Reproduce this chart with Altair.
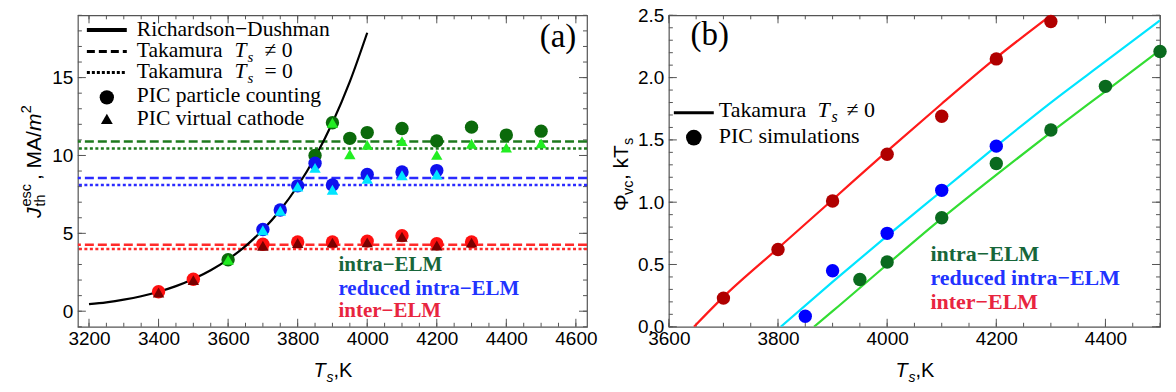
import altair as alt
import pandas as pd

# ---------------- Panel (a) data ----------------
T_RD = [3200, 3250, 3300, 3350, 3400, 3450, 3500, 3550, 3600, 3650, 3700, 3750, 3800, 3850, 3900, 3950, 4000]
J_RD = [0.45, 0.57, 0.74, 0.96, 1.25, 1.61, 2.07, 2.63, 3.33, 4.18, 5.23, 6.50, 8.04, 9.89, 12.10, 14.74, 17.88]

T_INTRA_PC = [3600, 3850, 3900, 3950, 4000, 4100, 4200, 4300, 4400, 4500]
J_INTRA_PC = [3.3, 10.0, 12.1, 11.1, 11.47, 11.73, 10.93, 11.82, 11.31, 11.56]
T_INTRA_VC = [3600, 3900, 3950, 4000, 4100, 4200, 4300, 4400, 4500]
J_INTRA_VC = [3.3, 12.1, 10.08, 10.68, 10.92, 10.04, 10.75, 10.5, 10.78]

T_REDU = [3700, 3750, 3800, 3850, 3900, 4000, 4100, 4200]
J_REDU_PC = [5.25, 6.5, 8.05, 9.5, 8.1, 8.78, 8.94, 9.03]
J_REDU_VC = [5.2, 6.45, 8.0, 9.2, 7.8, 8.5, 8.73, 8.78]

T_INTER = [3400, 3500, 3700, 3800, 3900, 4000, 4100, 4200, 4300]
J_INTER_PC = [1.25, 2.05, 4.3, 4.45, 4.45, 4.5, 4.85, 4.33, 4.45]
J_INTER_VC = [1.2, 2.0, 4.2, 4.38, 4.4, 4.42, 4.78, 4.22, 4.4]

# Takamura levels: intra, reduced intra, inter
TAK_NZ = [10.9, 8.55, 4.27]   # T_s != 0 (dashed)
TAK_Z = [10.45, 8.1, 4.0]     # T_s = 0 (dotted)

XA_MAJOR = [3200, 3400, 3600, 3800, 4000, 4200, 4400, 4600]
XA_MINOR = list(range(3200, 4601, 50))
YA_MAJOR = [0, 5, 10, 15]
YA_MINOR = list(range(-1, 20))
XA_DOMAIN = [3168, 4632]
YA_DOMAIN = [-1, 19]

# ---------------- Panel (b) data ----------------
T_B_INTER = [3700, 3800, 3900, 4000, 4100, 4200, 4300]
P_B_INTER = [0.23, 0.62, 1.01, 1.385, 1.69, 2.15, 2.45]
T_B_REDU = [3850, 3900, 4000, 4100, 4200]
P_B_REDU = [0.085, 0.45, 0.75, 1.095, 1.45]
T_B_INTRA = [3950, 4000, 4100, 4200, 4300, 4400, 4500]
P_B_INTRA = [0.38, 0.52, 0.875, 1.31, 1.58, 1.93, 2.21]

TL_INTER = [3646, 3700, 3800, 3900, 4000, 4100, 4200, 4300]
PL_INTER = [0.0, 0.24, 0.63, 1.02, 1.41, 1.79, 2.16, 2.50]
TL_REDU = [3805, 3900, 4000, 4100, 4200, 4300, 4400, 4500]
PL_REDU = [0.0, 0.36, 0.73, 1.09, 1.45, 1.80, 2.13, 2.46]
TL_INTRA = [3866, 3900, 4000, 4100, 4200, 4300, 4400, 4500]
PL_INTRA = [0.0, 0.125, 0.50, 0.87, 1.22, 1.56, 1.89, 2.22]

XB_MAJOR = [3600, 3800, 4000, 4200, 4400]
XB_MINOR = list(range(3600, 4501, 50))
YB_MAJOR = [0.0, 0.5, 1.0, 1.5, 2.0, 2.5]
YB_MINOR = [i / 10 for i in range(0, 26)]
XB_DOMAIN = [3600, 4500]
YB_DOMAIN = [0, 2.5]

# ---------------- styles ----------------
SERIF = "Liberation Serif"
SANS = "Liberation Sans"
FRAME = "#555555"
WA, HA = 510, 312
WB, HB = 492, 312

ONE = pd.DataFrame({"k": [0]})


def df(T, V):
    return pd.DataFrame({"T": T, "V": V})


def axis(vals, fmt, pad):
    return alt.Axis(values=vals, format=fmt, title=None, ticks=False, tickSize=0,
                    domain=False, grid=False, labelFont=SANS, labelFontSize=19,
                    labelColor="black", labelPadding=pad, labelFlush=False)


def txt(s, x, y, size, font=SERIF, style="normal", weight="normal",
        color="black", angle=0, align="left", baseline="alphabetic"):
    return alt.Chart(ONE).mark_text(
        text=s, font=font, fontSize=size, fontStyle=style, fontWeight=weight,
        color=color, angle=angle, align=align, baseline=baseline
    ).encode(x=alt.value(x), y=alt.value(y))


def panel(W, H, xdom, ydom, xmaj, xmin, ymaj, ymin, yfmt):
    xs = alt.Scale(domain=xdom, nice=False, zero=False)
    ys = alt.Scale(domain=ydom, nice=False, zero=False)
    X = alt.X("T:Q", scale=xs, axis=axis(xmaj, "d", 3))
    Y = alt.Y("V:Q", scale=ys, axis=axis(ymaj, yfmt, 5))
    layers = []
    for vals, L in ((xmin, 4), (xmaj, 8)):
        d = pd.DataFrame({"T": vals})
        layers.append(alt.Chart(d).mark_rule(color=FRAME, strokeWidth=1).encode(
            x=X, y=alt.value(H), y2=alt.value(H - L)))
        layers.append(alt.Chart(d).mark_rule(color=FRAME, strokeWidth=1).encode(
            x=X, y=alt.value(0), y2=alt.value(L)))
    for vals, L in ((ymin, 4), (ymaj, 8)):
        d = pd.DataFrame({"V": vals})
        layers.append(alt.Chart(d).mark_rule(color=FRAME, strokeWidth=1).encode(
            y=Y, x=alt.value(0), x2=alt.value(L)))
        layers.append(alt.Chart(d).mark_rule(color=FRAME, strokeWidth=1).encode(
            y=Y, x=alt.value(W), x2=alt.value(W - L)))
    return X, Y, layers


def pts(T, V, X, Y, color, shape="circle", size=180):
    return alt.Chart(df(T, V)).mark_point(shape=shape, filled=True, size=size,
                                          color=color, opacity=1, strokeWidth=0).encode(x=X, y=Y)


def line(T, V, X, Y, color, width=2.2, dash=None):
    kw = dict(color=color, strokeWidth=width, interpolate="monotone", clip=True)
    if dash:
        kw["strokeDash"] = dash
    return alt.Chart(df(T, V)).mark_line(**kw).encode(x=X, y=Y)


DASH = [9, 4]
DOT = [3, 2.5]

# ---------------- Panel (a) ----------------
XA, YA, la = panel(WA, HA, XA_DOMAIN, YA_DOMAIN, XA_MAJOR, XA_MINOR, YA_MAJOR, YA_MINOR, "d")

LINE_COL = ["#1e7a1e", "#2b2bff", "#ff2a2a"]
for v, c in zip(TAK_NZ, LINE_COL):
    la.append(alt.Chart(pd.DataFrame({"V": [v]})).mark_rule(color=c, strokeWidth=2.5, strokeDash=DASH).encode(y=YA))
for v, c in zip(TAK_Z, LINE_COL):
    la.append(alt.Chart(pd.DataFrame({"V": [v]})).mark_rule(color=c, strokeWidth=2.5, strokeDash=DOT).encode(y=YA))
la.append(line(T_RD, J_RD, XA, YA, "black", 2.2))

la.append(pts(T_INTRA_PC, J_INTRA_PC, XA, YA, "#0b6a0b"))
la.append(pts(T_INTRA_VC, J_INTRA_VC, XA, YA, "#22ee22", "triangle-up", 130))
la.append(pts(T_REDU, J_REDU_PC, XA, YA, "#1010ee"))
la.append(pts(T_REDU, J_REDU_VC, XA, YA, "#00e5ff", "triangle-up", 130))
la.append(pts(T_INTER, J_INTER_PC, XA, YA, "#ff1010"))
la.append(pts(T_INTER, J_INTER_VC, XA, YA, "#7a0000", "triangle-up", 130))

# legend (a)
la.append(alt.Chart(ONE).mark_rule(color="black", strokeWidth=4).encode(
    x=alt.value(9), x2=alt.value(49), y=alt.value(14.8)))
la.append(alt.Chart(ONE).mark_rule(color="black", strokeWidth=3, strokeDash=[8, 4]).encode(
    x=alt.value(9), x2=alt.value(49), y=alt.value(36.2)))
la.append(alt.Chart(ONE).mark_rule(color="black", strokeWidth=3, strokeDash=[3, 2]).encode(
    x=alt.value(9), x2=alt.value(49), y=alt.value(57.2)))
la.append(alt.Chart(ONE).mark_point(shape="circle", filled=True, size=205, color="black", opacity=1).encode(
    x=alt.value(29), y=alt.value(82.2)))
la.append(alt.Chart(ONE).mark_point(shape="triangle-up", filled=True, size=140, color="black", opacity=1).encode(
    x=alt.value(29), y=alt.value(103.8)))
LS = 21.6
la.append(txt("Richardson\u2212Dushman", 59, 20.5, LS))
la.append(txt("Takamura", 59, 41.5, LS))
la.append(txt("T", 157, 41.5, LS, style="italic"))
la.append(txt("s", 170, 46.5, 15, style="italic"))
la.append(txt("\u2260 0", 187, 41.5, LS))
la.append(txt("Takamura", 59, 63.2, LS))
la.append(txt("T", 157, 63.2, LS, style="italic"))
la.append(txt("s", 170, 68.2, 15, style="italic"))
la.append(txt("= 0", 187, 63.2, LS))
la.append(txt("PIC particle counting", 59, 87.2, LS))
la.append(txt("PIC virtual cathode", 59, 109.5, LS))
la.append(txt("(a)", 481, 31.5, 33, align="center"))
la.append(txt("intra\u2212ELM", 261, 256.5, 21, weight="bold", color="#17663a"))
la.append(txt("reduced intra\u2212ELM", 261, 280, 21, weight="bold", color="#2233ff"))
la.append(txt("inter\u2212ELM", 261, 302.5, 21, weight="bold", color="#e8253f"))
# x title (a)
la.append(txt("T", 236, 362.5, 20, font=SANS, style="italic"))
la.append(txt("s", 249, 367.5, 14, font=SANS, style="italic"))
la.append(txt(",K", 256, 362.5, 20, font=SANS))
# y title (a), rotated, reading upward
bx, y0 = -37, 203
la.append(txt("J", bx, y0, 21, font=SANS, style="italic", angle=270))
la.append(txt("esc", bx - 9.5, y0 - 11.5, 14.5, font=SANS, angle=270))
la.append(txt("th", bx + 4, y0 - 11.5, 14.5, font=SANS, angle=270))
la.append(txt(", MA/", bx, y0 - 38, 21, font=SANS, angle=270))
la.append(txt("m", bx, y0 - 87, 21, font=SANS, style="italic", angle=270))
la.append(txt("2", bx - 9.5, y0 - 105, 14.5, font=SANS, angle=270))

panel_a = alt.layer(*la).properties(width=WA, height=HA)

# ---------------- Panel (b) ----------------
XB, YB, lb = panel(WB, HB, XB_DOMAIN, YB_DOMAIN, XB_MAJOR, XB_MINOR, YB_MAJOR, YB_MINOR, ".1f")
lb.append(line(TL_INTER, PL_INTER, XB, YB, "#ff1a1a"))
lb.append(line(TL_REDU, PL_REDU, XB, YB, "#00e5ff"))
lb.append(line(TL_INTRA, PL_INTRA, XB, YB, "#33dd33"))
lb.append(pts(T_B_INTER, P_B_INTER, XB, YB, "#b00000"))
lb.append(pts(T_B_REDU, P_B_REDU, XB, YB, "#0000ff"))
lb.append(pts(T_B_INTRA, P_B_INTRA, XB, YB, "#0a6a1e"))

lb.append(alt.Chart(ONE).mark_rule(color="black", strokeWidth=3).encode(
    x=alt.value(5), x2=alt.value(45), y=alt.value(97.5)))
lb.append(alt.Chart(ONE).mark_point(shape="circle", filled=True, size=245, color="black", opacity=1).encode(
    x=alt.value(25), y=alt.value(122.5)))
LB = 22
lb.append(txt("Takamura", 50, 102.2, LB))
lb.append(txt("T", 149, 102.2, LB, style="italic"))
lb.append(txt("s", 163, 107.2, 16, style="italic"))
lb.append(txt("\u2260 0", 178, 102.2, LB))
lb.append(txt("PIC simulations", 50, 128.2, LB))
lb.append(txt("(b)", 41, 29.5, 33, align="center"))
lb.append(txt("intra\u2212ELM", 262, 246.5, 22, weight="bold", color="#17663a"))
lb.append(txt("reduced intra\u2212ELM", 262, 270.5, 22, weight="bold", color="#2233ff"))
lb.append(txt("inter\u2212ELM", 262, 294.5, 22, weight="bold", color="#e8253f"))
# x title (b)
lb.append(txt("T", 227, 362.5, 20, font=SANS, style="italic"))
lb.append(txt("s", 240, 367.5, 14, font=SANS, style="italic"))
lb.append(txt(",K", 247, 362.5, 20, font=SANS))
# y title (b)
bx, y0 = -41, 196
lb.append(txt("\u03a6", bx, y0, 21, font=SANS, angle=270))
lb.append(txt("vc", bx + 5, y0 - 16, 14.5, font=SANS, angle=270))
lb.append(txt(", kT", bx, y0 - 31, 21, font=SANS, angle=270))
lb.append(txt("s", bx + 5, y0 - 66, 14.5, font=SANS, angle=270))

panel_b = alt.layer(*lb).properties(width=WB, height=HB)

chart = alt.hconcat(panel_a, panel_b, spacing=82, bounds="flush").properties(
    padding={"left": 10, "top": -3, "right": 0, "bottom": 0},
    background="white",
).configure_view(stroke=FRAME, strokeWidth=1.2)

chart.save("out.html", embed_options={"renderer": "svg", "actions": False})
